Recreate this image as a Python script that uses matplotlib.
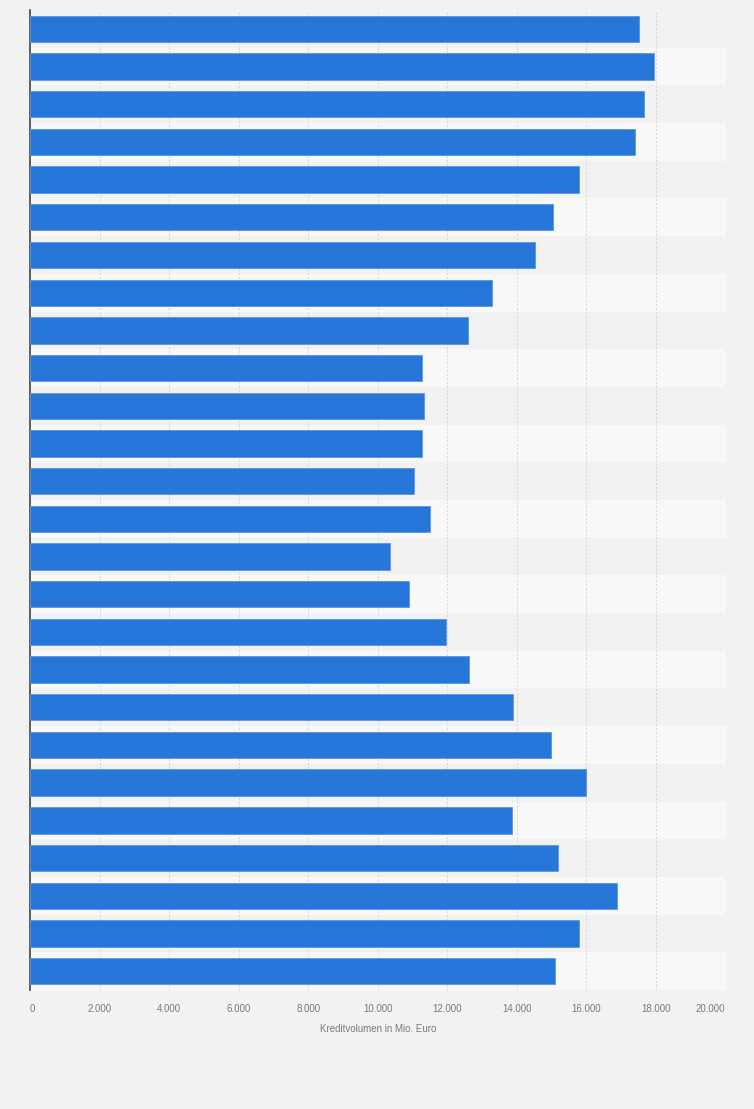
import numpy as np
import matplotlib.pyplot as plt
from matplotlib.ticker import FuncFormatter

plt.rcParams['font.family'] = ['Liberation Sans', 'DejaVu Sans']

# Kreditvolumen in Mio. Euro, top to bottom
values = [17500, 17940, 17650, 17390, 15800, 15030, 14520, 13280, 12590,
          11260, 11320, 11260, 11030, 11490, 10340, 10890, 11960, 12620,
          13900, 14970, 15980, 13860, 15170, 16880, 15780, 15090]
xticks = [0, 2000, 4000, 6000, 8000, 10000, 12000, 14000, 16000, 18000, 20000]
xlabel = 'Kreditvolumen in Mio. Euro'

bg = '#f2f2f2'
fig = plt.figure(figsize=(7.54, 11.09), dpi=100, facecolor=bg)
ax = fig.add_axes([30/754, 1-990/1109, (725.5-30)/754, 980/1109])
ax.set_facecolor(bg)

n = len(values)
y = np.arange(n)
# alternating stripes
for i in range(n):
    if i % 2 == 1:
        ax.axhspan(i-0.5, i+0.5, color='#f8f8f8', zorder=0, lw=0)

ax.barh(y, values, height=0.7, color='#2776d9', edgecolor='#5a95e3', linewidth=0.6, zorder=3)

ax.set_xlim(0, 20000)
ax.set_ylim(n-0.5, -0.5)
ax.set_xticks(xticks)
ax.xaxis.set_major_formatter(FuncFormatter(lambda v, p: f'{int(v):,}'.replace(',', '.')))
ax.set_yticks([])
ax.grid(axis='x', color='#d4d4d4', linestyle=(0, (2, 2)), linewidth=0.7, zorder=1)
ax.tick_params(axis='x', length=0, pad=10, labelsize=7, labelcolor='#7a7a7a')
labels = ax.get_xticklabels()
labels[0].set_ha('left')
labels[-1].set_ha('right')
for s in ['top', 'right', 'bottom']:
    ax.spines[s].set_visible(False)
ax.spines['left'].set_color('#444444')
ax.spines['left'].set_linewidth(1.2)
ax.set_xlabel(xlabel, fontsize=7, color='#7a7a7a', labelpad=7)

fig.savefig('out.png', dpi=100, facecolor=bg)
